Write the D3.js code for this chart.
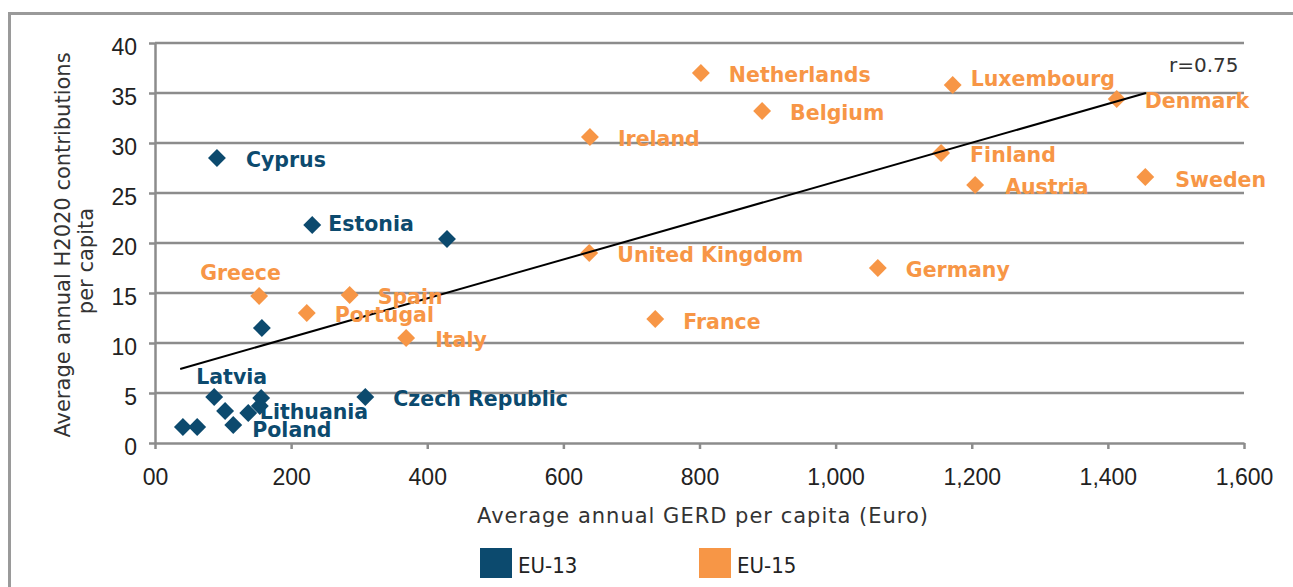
<!DOCTYPE html>
<html>
<head>
<meta charset="utf-8">
<script src="https://cdn.jsdelivr.net/npm/d3@7"></script>
<style>
  html, body { margin: 0; padding: 0; background: #fff; }
  svg { display: block; }
</style>
</head>
<body>
<svg id="chart" width="1293" height="587"></svg>
<script>
// ---------------- DATA ----------------
const eu13Labels = ["Cyprus", "Estonia", "", "", "Latvia", "", "Poland", "", "", "Lithuania", "", "", "Czech Republic"];
const eu13X = [91, 231, 429, 157, 87, 103, 115, 137, 156, 154, 41, 62, 309];
const eu13Y = [28.5, 21.8, 20.4, 11.5, 4.6, 3.2, 1.8, 3.0, 4.5, 3.7, 1.6, 1.6, 4.6];

const eu15Labels = ["Netherlands", "Luxembourg", "Belgium", "Denmark", "Ireland", "Finland", "Austria", "Sweden",
                    "United Kingdom", "Germany", "Greece", "Spain", "Portugal", "Italy", "France"];
const eu15X = [802, 1172, 892, 1413, 639, 1155, 1205, 1455, 638, 1062, 153, 286, 223, 369, 735];
const eu15Y = [37.0, 35.8, 33.2, 34.4, 30.6, 29.0, 25.8, 26.6, 19.0, 17.5, 14.7, 14.8, 13.0, 10.5, 12.4];

const trendX = [37, 1456];
const trendY = [7.4, 35.0];
const correlationLabel = "r=0.75";

const xTicks = [0, 200, 400, 600, 800, 1000, 1200, 1400, 1600];
const xTickLabels = ["00", "200", "400", "600", "800", "1,000", "1,200", "1,400", "1,600"];
const yTicks = [0, 5, 10, 15, 20, 25, 30, 35, 40];
const yTickLabels = ["0", "5", "10", "15", "20", "25", "30", "35", "40"];

const seriesNames = ["EU-13", "EU-15"];
const xTitle = "Average annual GERD per capita (Euro)";
const yTitleLines = ["Average annual H2020 contributions", "per capita"];

// ---------------- STYLE / LAYOUT ----------------
const colors = { "EU-13": "#0c4a6e", "EU-15": "#f79646" };
const gridColor = "#8c8c8c";
const labelFont = "'DejaVu Sans', sans-serif";
const tickFont = "'Liberation Sans', Arial, sans-serif";
const defaultOffset = [28, 9];
const labelOffsets = {
  "Luxembourg": [18, 1], "Greece": [-59, -16], "Estonia": [16, 6], "Latvia": [-18, -13],
  "Poland": [19, 12], "Lithuania": [0, 13], "Sweden": [30, 10], "Austria": [30, 9], "Finland": [29, 9],
  "Cyprus": [29, 9], "Italy": [29, 9], "France": [28, 10]
};

const svg = d3.select("#chart");
const x = d3.scaleLinear().domain([0, 1600]).range([155, 1244]);
const y = d3.scaleLinear().domain([0, 40]).range([443, 43]);

// outer frame
svg.append("rect")
  .attr("x", 9.5).attr("y", 13.5).attr("width", 1400).attr("height", 700)
  .attr("fill", "none").attr("stroke", "#9a9a9a").attr("stroke-width", 3);

// gridlines
svg.append("g").selectAll("line")
  .data(yTicks.filter(d => d > 0))
  .join("line")
  .attr("x1", x(0)).attr("x2", x(1600))
  .attr("y1", d => y(d)).attr("y2", d => y(d))
  .attr("stroke", gridColor).attr("stroke-width", 2.5);

// x axis
const gx = svg.append("g").attr("transform", `translate(0,${y(0)})`)
  .call(d3.axisBottom(x).tickValues(xTicks).tickFormat((d, i) => xTickLabels[i]).tickSize(6).tickSizeOuter(0));
gx.select(".domain").attr("stroke", gridColor).attr("stroke-width", 2.5);
gx.selectAll(".tick line").attr("stroke", gridColor).attr("stroke-width", 2.5);
gx.selectAll(".tick text")
  .attr("y", 42).attr("dy", null)
  .attr("font-family", tickFont).attr("font-size", 23).attr("fill", "#222");

// y axis
const gy = svg.append("g").attr("transform", `translate(${x(0)},0)`)
  .call(d3.axisLeft(y).tickValues(yTicks).tickFormat((d, i) => yTickLabels[i]).tickSize(6).tickSizeOuter(0));
gy.select(".domain").attr("stroke", gridColor).attr("stroke-width", 2.5);
gy.selectAll(".tick line").attr("stroke", gridColor).attr("stroke-width", 2.5);
gy.selectAll(".tick text")
  .attr("x", -18).attr("dy", null).attr("y", 11)
  .attr("font-family", tickFont).attr("font-size", 23).attr("fill", "#222");

// axis titles
svg.append("text")
  .attr("x", 703).attr("y", 523).attr("text-anchor", "middle")
  .attr("font-family", labelFont).attr("font-size", 21).attr("letter-spacing", 1)
  .attr("fill", "#333").text(xTitle);

svg.append("text")
  .attr("transform", "translate(70,245) rotate(-90)").attr("text-anchor", "middle")
  .attr("font-family", labelFont).attr("font-size", 21).attr("fill", "#333").text(yTitleLines[0]);
svg.append("text")
  .attr("transform", "translate(93,261) rotate(-90)").attr("text-anchor", "middle")
  .attr("font-family", labelFont).attr("font-size", 21).attr("fill", "#333").text(yTitleLines[1]);

// points
const eu13 = eu13X.map((v, i) => ({ x: v, y: eu13Y[i], label: eu13Labels[i], series: "EU-13" }));
const eu15 = eu15X.map((v, i) => ({ x: v, y: eu15Y[i], label: eu15Labels[i], series: "EU-15" }));
const all = eu15.concat(eu13);

const diamond = d3.symbol().type(d3.symbolSquare).size(160);
svg.append("g").selectAll("path")
  .data(all)
  .join("path")
  .attr("d", diamond)
  .attr("transform", d => `translate(${x(d.x)},${y(d.y)}) rotate(45)`)
  .attr("fill", d => colors[d.series]);

// trend line
svg.append("line")
  .attr("x1", x(trendX[0])).attr("y1", y(trendY[0]))
  .attr("x2", x(trendX[1])).attr("y2", y(trendY[1]))
  .attr("stroke", "#000").attr("stroke-width", 2);

// labels
svg.append("g").selectAll("text")
  .data(all.filter(d => d.label))
  .join("text")
  .attr("x", d => x(d.x) + (labelOffsets[d.label] || defaultOffset)[0])
  .attr("y", d => y(d.y) + (labelOffsets[d.label] || defaultOffset)[1])
  .attr("font-family", labelFont).attr("font-weight", "bold").attr("font-size", 20.5)
  .attr("fill", d => colors[d.series])
  .text(d => d.label);

// correlation label
svg.append("text")
  .attr("x", 1169).attr("y", 72)
  .attr("font-family", labelFont).attr("font-size", 20).attr("fill", "#333")
  .text(correlationLabel);

// legend
const legendX = [480, 699];
const lg = svg.append("g").selectAll("g").data(seriesNames).join("g")
  .attr("transform", (d, i) => `translate(${legendX[i]},548)`);
lg.append("rect").attr("width", 32).attr("height", 30).attr("fill", d => colors[d]);
lg.append("text")
  .attr("x", 38).attr("y", 25)
  .attr("font-family", "'DejaVu Sans Condensed', 'Liberation Sans Narrow', sans-serif")
  .attr("font-size", 22).attr("fill", "#222")
  .text(d => d);
</script>
</body>
</html>
